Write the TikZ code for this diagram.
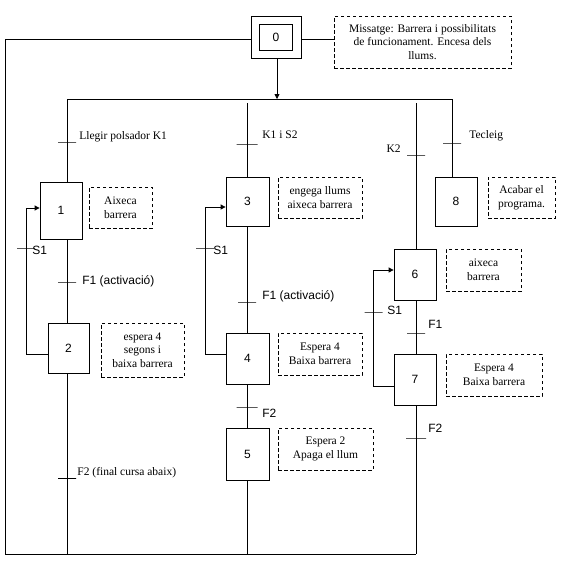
\documentclass[tikz,border=0pt]{standalone}
\usepackage{fontspec}
\setmainfont{Liberation Serif}
\setsansfont{Liberation Sans}
\usepackage{tikz}
\usetikzlibrary{arrows.meta}

\begin{document}
\begin{tikzpicture}[
            x = 1pt, y = -1pt, % pixel grid, y going down
            > = {Triangle[length=5pt,width=5pt]}, % arrow head style
            line width = 0.8pt, % line style
            stepbox/.style = {shape=rectangle, draw=black, inner sep=0pt, font=\sffamily\fontsize{12}{14}\selectfont},
            note/.style = {shape=rectangle, draw=black, dash pattern=on 3.5pt off 2.5pt, align=center, inner sep=0pt, font=\fontsize{11.5}{13.6}\selectfont},
            trans/.style = {shape=rectangle, draw=black, minimum width=18pt, minimum height=0pt, inner sep=0pt, outer sep=0pt},
            tlabel/.style = {anchor=base west, inner sep=0pt, font=\fontsize{11.5}{13.6}\selectfont},
            slabel/.style = {anchor=base west, inner sep=0pt, font=\sffamily\fontsize{12}{14}\selectfont}
        ]
\useasboundingbox (0,0) rectangle (572,560);

% steps
\node[stepbox, minimum width=50pt, minimum height=42pt] (s0) at (276,37) {};
\node[stepbox, minimum width=33pt, minimum height=26pt] (s0in) at (s0) {0};
\node[stepbox, minimum width=42pt, minimum height=57pt] (s1) at (61,210.5) {1};
\node[stepbox, minimum width=41pt, minimum height=50pt] (s2) at (68.5,348) {2};
\node[stepbox, minimum width=43pt, minimum height=49pt] (s3) at (247.5,201.5) {3};
\node[stepbox, minimum width=43pt, minimum height=51pt] (s4) at (247.5,358.5) {4};
\node[stepbox, minimum width=43pt, minimum height=52pt] (s5) at (247.5,454) {5};
\node[stepbox, minimum width=42pt, minimum height=51pt] (s6) at (415,274.5) {6};
\node[stepbox, minimum width=42pt, minimum height=51pt] (s7) at (415,379.5) {7};
\node[stepbox, minimum width=42pt, minimum height=49pt] (s8) at (456,201.5) {8};

% actions
\node[note, minimum width=177pt, minimum height=52pt] (n0) at (422.5,42) {Missatge: Barrera i possibilitats\\de funcionament. Encesa dels\\llums.};
\node[note, minimum width=63pt, minimum height=41pt] (n1) at (120.5,207.5) {Aixeca\\barrera};
\node[note, minimum width=83pt, minimum height=54pt] (n2) at (142.5,350) {espera 4\\segons i\\baixa barrera};
\node[note, minimum width=84pt, minimum height=41pt] (n3) at (320,197.5) {engega llums\\aixeca barrera};
\node[note, minimum width=84pt, minimum height=42pt] (n4) at (320,354) {Espera 4\\Baixa barrera};
\node[note, minimum width=95pt, minimum height=42pt] (n5) at (325.5,449) {Espera 2\\Apaga el llum};
\node[note, minimum width=75pt, minimum height=42pt] (n6) at (483.5,270) {aixeca\\barrera};
\node[note, minimum width=96pt, minimum height=42pt] (n7) at (494,375) {Espera 4\\Baixa barrera};
\node[note, minimum width=67pt, minimum height=41pt] (n8) at (521.5,197.5) {Acabar el\\programa.};

% branch points
\coordinate (bar) at (277,99);
\coordinate (b1) at (67,99);
\coordinate (b3) at (247,103);
\coordinate (b6) at (416,103);
\coordinate (b8) at (452,99);
\coordinate (r0) at (5,39);
\coordinate (r1) at (5,554);
\coordinate (e7) at (416,554);

% transitions
\node[trans] (t1) at (67,142) {};
\node[trans] (t2) at (67,282) {};
\node[trans] (t3) at (67,478) {};
\node[trans, minimum width=21pt] (t4) at (247,144) {};
\node[trans] (t5) at (247,302) {};
\node[trans, minimum width=21pt] (t6) at (247,407) {};
\node[trans] (t7) at (416,155) {};
\node[trans] (t8) at (416,333) {};
\node[trans, minimum width=20pt] (t9) at (416,438) {};
\node[trans] (t10) at (452,143) {};
\node[trans] (t11) at (26,248) {};
\node[trans] (t12) at (205,248) {};
\node[trans] (t13) at (373.5,312) {};

% receptivities
\node[tlabel] (l1) at (79,139) {Llegir polsador K1};
\node[slabel] (l2) at (82,284) {F1 (activació)};
\node[tlabel] (l3) at (77,475) {F2 (final cursa abaix)};
\node[tlabel] (l4) at (262,138.5) {K1 i S2};
\node[slabel] (l5) at (262,299) {F1 (activació)};
\node[slabel] (l6) at (262,417) {F2};
\node[tlabel, anchor=base east] (l7) at (401,152) {K2};
\node[slabel] (l8) at (428,328) {F1};
\node[slabel] (l9) at (428,432) {F2};
\node[tlabel] (l10) at (469,138) {Tecleig};
\node[slabel] (l11) at (32,254) {S1};
\node[slabel] (l12) at (213,254) {S1};
\node[slabel] (l13) at (387,314) {S1};

% links
\path [->] (s0.south -| bar) edge (bar);
\draw (b1) -- (b8);
\draw (s0.west |- r0) -- (r0) -- (r1) -- (e7);
\draw (s0.east |- r0) -- (n0.west |- r0);

\draw (b1) -- (t1) -- (t1 |- s1.north);
\draw (s1.south -| t2) -- (t2) -- (t2 |- s2.north);
\draw (s2.south -| t3) -- (t3) -- (t3 |- r1);

\draw (b3) -- (t4) -- (t4 |- s3.north);
\draw (s3.south -| t5) -- (t5) -- (t5 |- s4.north);
\draw (s4.south -| t6) -- (t6) -- (t6 |- s5.north);
\draw (s5.south -| t6) -- (t6 |- r1);

\draw (b6) -- (t7) -- (t7 |- s6.north);
\draw (s6.south -| t8) -- (t8) -- (t8 |- s7.north);
\draw (s7.south -| t9) -- (t9) -- (e7);

\draw (b8) -- (t10) -- (t10 |- s8.north);

% S1 loops
\draw[->] (s2.west |- 0,354) -| (t11) -- (t11 |- 0,208) -- (s1.west |- 0,208);
\draw[->] (s4.west |- 0,354) -| (t12) -- (t12 |- 0,207) -- (s3.west |- 0,207);
\draw[->] (s7.west |- 0,386) -| (t13) -- (t13 |- 0,270) -- (s6.west |- 0,270);

\end{tikzpicture}
\end{document}
